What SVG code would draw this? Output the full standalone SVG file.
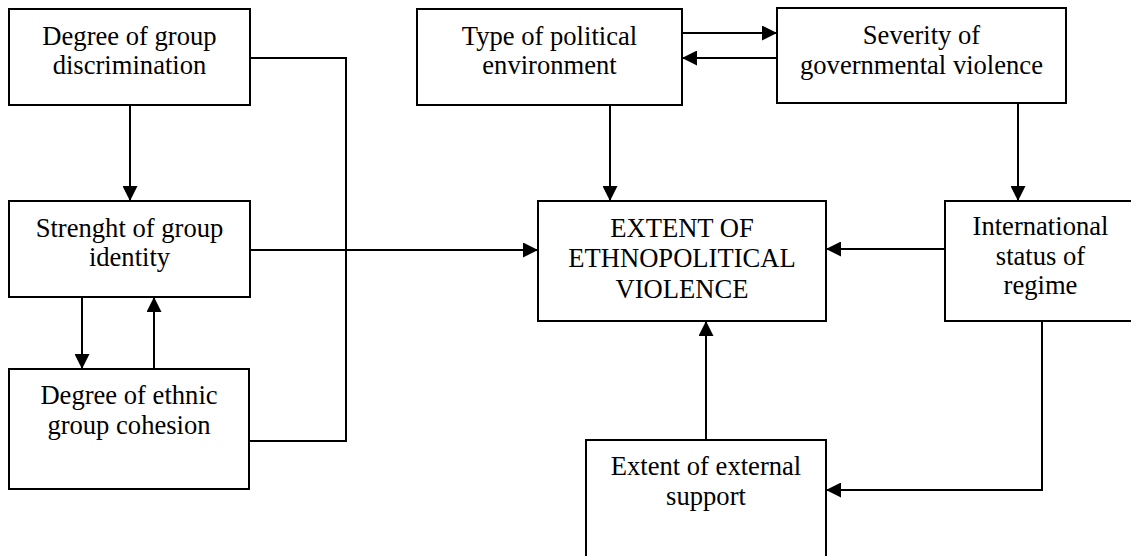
<svg xmlns="http://www.w3.org/2000/svg" width="1131" height="556" viewBox="0 0 1131 556">
<style>
.box{fill:#fff;stroke:#000;stroke-width:2}
.t{font-family:"Liberation Serif","Times New Roman",serif;font-size:26.6px;fill:#000;text-anchor:middle}
.c{fill:none;stroke:#000;stroke-width:2}
</style>
<defs>
<marker id="ah" markerUnits="userSpaceOnUse" markerWidth="15" markerHeight="15" refX="15" refY="7.5" orient="auto">
<path d="M0,0 L15,7.5 L0,15 z" fill="#000"/>
</marker>
</defs>
<rect width="1131" height="556" fill="#fff"/>
<g id="connectors">
<line class="c" x1="130" y1="105" x2="130" y2="201" marker-end="url(#ah)"/>
<path class="c" d="M250,58 H346 V441 H249"/>
<line class="c" x1="250" y1="250" x2="538" y2="250" marker-end="url(#ah)"/>
<line class="c" x1="82" y1="297" x2="82" y2="369" marker-end="url(#ah)"/>
<line class="c" x1="154" y1="369" x2="154" y2="297" marker-end="url(#ah)"/>
<line class="c" x1="682" y1="33" x2="777" y2="33" marker-end="url(#ah)"/>
<line class="c" x1="777" y1="58" x2="682" y2="58" marker-end="url(#ah)"/>
<line class="c" x1="610" y1="105" x2="610" y2="201" marker-end="url(#ah)"/>
<line class="c" x1="1018" y1="103" x2="1018" y2="201" marker-end="url(#ah)"/>
<line class="c" x1="945" y1="249" x2="826" y2="249" marker-end="url(#ah)"/>
<path class="c" d="M1042,321 V490 H826" marker-end="url(#ah)"/>
<line class="c" x1="706" y1="440" x2="706" y2="321" marker-end="url(#ah)"/>
</g>
<g id="discrimination">
<rect class="box" x="9" y="9" width="241" height="96"/>
<text class="t" x="129.5" y="45">Degree of group</text>
<text class="t" x="129.5" y="74">discrimination</text>
</g>
<g id="identity">
<rect class="box" x="9" y="201" width="241" height="96"/>
<text class="t" x="129.5" y="237">Strenght of group</text>
<text class="t" x="129.5" y="266">identity</text>
</g>
<g id="cohesion">
<rect class="box" x="9" y="369" width="240" height="120"/>
<text class="t" x="129" y="404">Degree of ethnic</text>
<text class="t" x="129" y="434">group cohesion</text>
</g>
<g id="political-environment">
<rect class="box" x="417" y="9" width="265" height="96"/>
<text class="t" x="549.5" y="45">Type of political</text>
<text class="t" x="549.5" y="74">environment</text>
</g>
<g id="governmental-violence">
<rect class="box" x="777" y="8" width="289" height="95"/>
<text class="t" x="921.5" y="44">Severity of</text>
<text class="t" x="921.5" y="73.5">governmental violence</text>
</g>
<g id="ethnopolitical-violence">
<rect class="box" x="538" y="201" width="288" height="120"/>
<text class="t" x="682" y="236.5">EXTENT OF</text>
<text class="t" x="682" y="267">ETHNOPOLITICAL</text>
<text class="t" x="682" y="297.5">VIOLENCE</text>
</g>
<g id="international-status">
<rect class="box" x="945" y="201" width="191" height="120"/>
<text class="t" x="1040.5" y="235">International</text>
<text class="t" x="1040.5" y="264.5">status of</text>
<text class="t" x="1040.5" y="294">regime</text>
</g>
<g id="external-support">
<rect class="box" x="586" y="440" width="240" height="130"/>
<text class="t" x="706" y="475">Extent of external</text>
<text class="t" x="706" y="505">support</text>
</g>
</svg>
